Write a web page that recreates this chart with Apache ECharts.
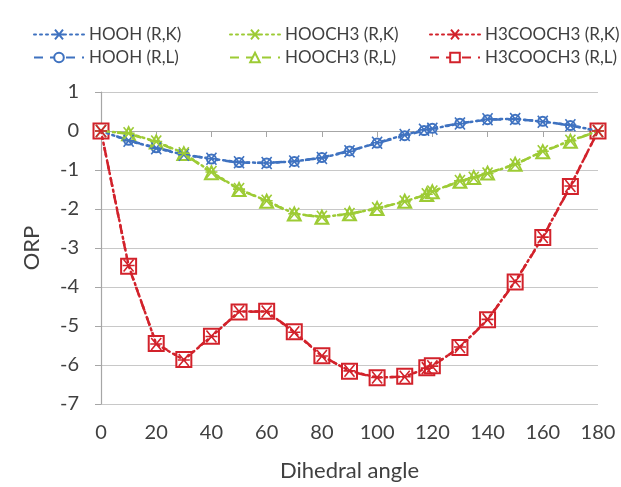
<!DOCTYPE html>
<html>
<head>
<meta charset="utf-8">
<script src="https://cdn.jsdelivr.net/npm/echarts@6/dist/echarts.min.js"></script>
<style>html,body{margin:0;padding:0;background:#fff}#c{width:621px;height:487px}</style>
</head>
<body>
<div id="c"></div>
<script>
// Data (dihedral angle, ORP)
const hoohAngles   = [0,10,20,30,40,50,60,70,80,90,100,110,117,120,130,140,150,160,170,180];
const hoohK        = [0,-0.25,-0.44,-0.61,-0.71,-0.80,-0.82,-0.78,-0.69,-0.52,-0.30,-0.10,0.03,0.06,0.19,0.30,0.31,0.24,0.15,0];
const hoohL        = [0,-0.24,-0.43,-0.60,-0.72,-0.81,-0.82,-0.78,-0.68,-0.51,-0.31,-0.12,0.01,0.07,0.20,0.29,0.30,0.25,0.14,0];
const hooch3Angles = [0,10,20,30,40,50,60,70,80,90,100,110,118,120,130,135,140,150,160,170,180];
const hooch3K      = [0,-0.06,-0.27,-0.57,-1.05,-1.49,-1.79,-2.12,-2.20,-2.13,-1.98,-1.81,-1.62,-1.55,-1.28,-1.20,-1.09,-0.86,-0.52,-0.25,0];
const hooch3L      = [0,-0.07,-0.28,-0.58,-1.07,-1.50,-1.80,-2.13,-2.21,-2.12,-1.99,-1.80,-1.63,-1.56,-1.29,-1.19,-1.08,-0.85,-0.53,-0.26,0];
const h3Angles     = [0,10,20,30,40,50,60,70,80,90,100,110,118,120,130,140,150,160,170,180];
const h3K          = [0,-3.45,-5.46,-5.87,-5.27,-4.63,-4.63,-5.16,-5.77,-6.15,-6.32,-6.30,-6.08,-6.03,-5.54,-4.83,-3.86,-2.72,-1.41,0];
const h3L          = [0,-3.47,-5.45,-5.86,-5.26,-4.64,-4.62,-5.15,-5.76,-6.16,-6.33,-6.29,-6.07,-6.02,-5.55,-4.84,-3.87,-2.73,-1.42,0];
const xTicks = [0,20,40,60,80,100,120,140,160,180];
const yTicks = [1,0,-1,-2,-3,-4,-5,-6,-7];

const BLUE = '#3f72c0', GREEN = '#9dcb35', RED = '#d2222b';
const STAR = 'path://M-1,-1L1,1M-1,1L1,-1M-1.2,0L1.2,0';
const FONT = 'Lato';

function pairs(xs, ys){ return xs.map((x,i)=>[x, ys[i]]); }

function kSeries(name, xs, ys, color){
  return {
    name, type:'line', data: pairs(xs, ys),
    symbol: STAR, symbolSize: 12,
    itemStyle:{color: color, borderColor: color, borderWidth: 1.6},
    lineStyle:{color: color, width: 2.5, type: [2,4], cap:'round'},
    z: 3
  };
}
function lSeries(name, xs, ys, color, symbol, size){
  return {
    name, type:'line', data: pairs(xs, ys),
    symbol, symbolSize: size,
    itemStyle:{color: color, borderColor: color, borderWidth: 1.6},
    lineStyle:{color: color, width: 2.5, type: [9,7]},
    z: 2
  };
}

const chart = echarts.init(document.getElementById('c'), null, {renderer:'canvas'});
const legendBase = {
  orient:'vertical', itemWidth: 50, itemHeight: 12, itemGap: 6, top: 21,
  textStyle:{fontFamily: FONT, fontSize: 17, color:'#404040'}
};
chart.setOption({
  animation:false,
  backgroundColor:'#fff',
  legend:[
    Object.assign({}, legendBase, {left: 28, data:['HOOH (R,K)','HOOH (R,L)']}),
    Object.assign({}, legendBase, {left: 224, data:['HOOCH3 (R,K)','HOOCH3 (R,L)']}),
    Object.assign({}, legendBase, {left: 424, data:['H3COOCH3 (R,K)','H3COOCH3 (R,L)']})
  ],
  grid:{left:101, right:23, top:92, bottom:77},
  xAxis:{
    type:'value', min:0, max:180, interval:20,
    name:'Dihedral angle', nameLocation:'middle', nameGap: 56,
    nameTextStyle:{fontFamily: FONT, fontSize: 22, color:'#404040'},
    axisLine:{show:true, lineStyle:{color:'#a6a6a6', width:1.2}},
    axisTick:{show:true, length:6, lineStyle:{color:'#a6a6a6'}},
    axisLabel:{fontFamily: FONT, fontSize: 20, color:'#404040', margin: 19,
      formatter: v => xTicks.includes(v) ? String(v) : ''},
    splitLine:{show:false}
  },
  yAxis:{
    type:'value', min:-7, max:1, interval:1,
    name:'ORP', nameLocation:'middle', nameGap: 58, nameRotate: 90,
    nameTextStyle:{fontFamily: FONT, fontSize: 22, color:'#404040'},
    axisLine:{show:true, lineStyle:{color:'#a6a6a6', width:1.2}},
    axisTick:{show:true, length:6, lineStyle:{color:'#a6a6a6'}},
    axisLabel:{fontFamily: FONT, fontSize: 20, color:'#404040', margin: 22,
      formatter: v => yTicks.includes(v) ? String(v) : ''},
    splitLine:{show:true, lineStyle:{color:'#c8c8c8', width:1.2}}
  },
  series:[
    kSeries('HOOH (R,K)', hoohAngles, hoohK, BLUE),
    lSeries('HOOH (R,L)', hoohAngles, hoohL, BLUE, 'emptyCircle', 9),
    kSeries('HOOCH3 (R,K)', hooch3Angles, hooch3K, GREEN),
    lSeries('HOOCH3 (R,L)', hooch3Angles, hooch3L, GREEN, 'emptyTriangle', 13),
    kSeries('H3COOCH3 (R,K)', h3Angles, h3K, RED),
    lSeries('H3COOCH3 (R,L)', h3Angles, h3L, RED, 'emptyRect', 15)
  ]
});
</script>
</body>
</html>
